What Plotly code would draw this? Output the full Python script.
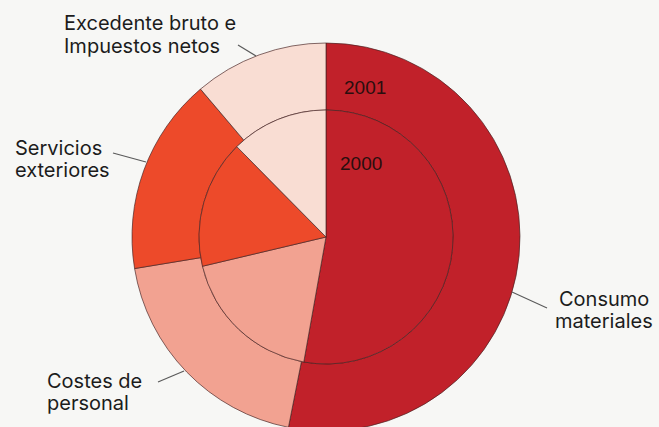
import plotly.graph_objects as go

# ---- data ----
categories = ["Consumo materiales", "Costes de personal", "Servicios exteriores",
              "Excedente bruto e Impuestos netos"]
values_2001 = [53.1, 19.3, 16.4, 11.2]   # outer ring
values_2000 = [52.8, 18.5, 16.3, 12.4]   # inner pie
year_labels = ["2001", "2000"]

# slice colours, in slice order: Consumo, Costes, Servicios, Excedente
slice_colors = ["#c1212a", "#f2a291", "#ed4a2a", "#f9ddd3"]

W, H = 659, 440
BG = "#f7f7f5"
CX, CY = 326, 237
R_OUT, R_IN = 194, 127


def px(x):
    return x / W


def py(y):
    return 1 - y / H


line_style = dict(color="rgba(70,35,35,0.75)", width=0.9)

fig = go.Figure()
fig.add_trace(go.Pie(
    labels=categories, values=values_2001, sort=False, direction="clockwise",
    rotation=0, hole=R_IN / R_OUT, textinfo="none", hoverinfo="label+percent",
    marker=dict(colors=slice_colors, line=line_style),
    domain=dict(x=[px(CX - R_OUT), px(CX + R_OUT)], y=[py(CY + R_OUT), py(CY - R_OUT)]),
    showlegend=False, name=year_labels[0],
))
fig.add_trace(go.Pie(
    labels=categories, values=values_2000, sort=False, direction="clockwise",
    rotation=0, textinfo="none", hoverinfo="label+percent",
    marker=dict(colors=slice_colors, line=line_style),
    domain=dict(x=[px(CX - R_IN), px(CX + R_IN)], y=[py(CY + R_IN), py(CY - R_IN)]),
    showlegend=False, name=year_labels[1],
))

FONT = "Inter, Liberation Sans, Arial, sans-serif"
NUMFONT = "Liberation Sans, Arial, sans-serif"
TXT = "#1c1c1c"

text_lines = [
    ("Excedente bruto e", 62, 23, "left"),
    ("Impuestos netos", 62, 46, "left"),
    ("Servicios", 13, 147.5, "left"),
    ("exteriores", 13, 169.5, "left"),
    ("Consumo", 604, 298.5, "center"),
    ("materiales", 604, 320.5, "center"),
    ("Costes de", 45, 380.5, "left"),
    ("personal", 45, 402.5, "left"),
]
annotations = []
for t, x, y, anc in text_lines:
    annotations.append(dict(
        text=t, x=px(x), y=py(y), xref="paper", yref="paper",
        xanchor=anc, yanchor="middle", showarrow=False,
        font=dict(family=FONT, size=20, color=TXT),
    ))
annotations.append(dict(text=year_labels[0], x=px(365), y=py(87), xref="paper", yref="paper",
                        xanchor="center", yanchor="middle", showarrow=False,
                        font=dict(family=NUMFONT, size=19, color="#2a0e0e")))
annotations.append(dict(text=year_labels[1], x=px(361), y=py(163), xref="paper", yref="paper",
                        xanchor="center", yanchor="middle", showarrow=False,
                        font=dict(family=NUMFONT, size=19, color="#2a0e0e")))

leaders = [
    ((238, 45), (256, 56)),
    ((113, 153), (146, 162)),
    ((512, 292), (547, 308)),
    ((158, 382), (184, 371)),
]
shapes = []
for (x0, y0), (x1, y1) in leaders:
    shapes.append(dict(type="line", xref="paper", yref="paper",
                       x0=px(x0), y0=py(y0), x1=px(x1), y1=py(y1),
                       line=dict(color="#5a5a5a", width=1.2)))

fig.update_layout(
    width=W, height=H, margin=dict(l=0, r=0, t=0, b=0),
    paper_bgcolor=BG, plot_bgcolor=BG,
    annotations=annotations, shapes=shapes,
)

fig.write_html(
    "out.html",
    config={"displayModeBar": False},
    post_script="document.body.style.margin='0';document.body.style.overflow='hidden';"
                "document.documentElement.style.overflow='hidden';"
                "document.body.style.background='" + BG + "';",
)
